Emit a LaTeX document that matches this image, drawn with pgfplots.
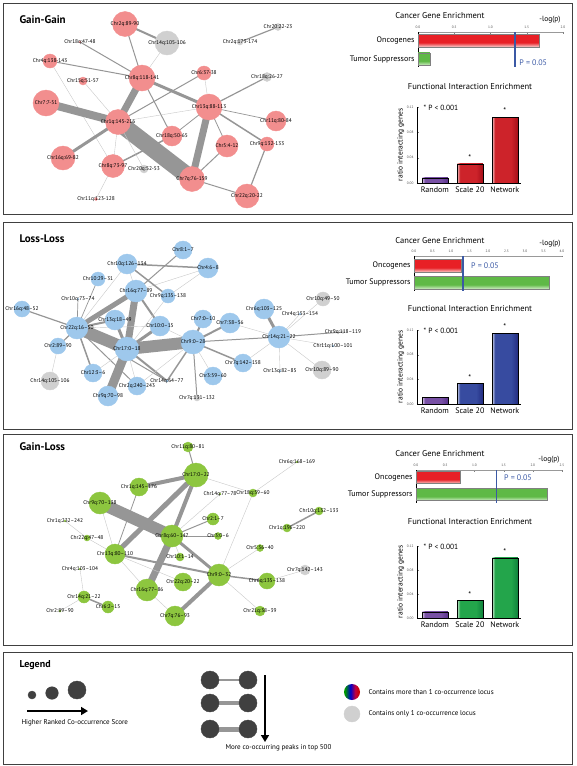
\documentclass[border=0pt]{standalone}
\usepackage{pgfplots}
\pgfplotsset{compat=1.18}
\usepackage{pgfplotstable}
\usepackage{fontspec}
\setmainfont{PT Sans}
\usetikzlibrary{arrows.meta}

\definecolor{ggpink}{RGB}{242,142,142}
\definecolor{llblue}{RGB}{158,200,236}
\definecolor{glgreen}{RGB}{141,198,63}
\definecolor{nodegrey}{RGB}{208,208,208}
\definecolor{edgegrey}{RGB}{150,150,150}
\definecolor{lightedge}{RGB}{200,200,200}
\definecolor{darkdot}{RGB}{64,64,64}
\definecolor{pblue}{RGB}{59,89,165}
\definecolor{redD}{RGB}{165,15,25}\definecolor{redM}{RGB}{205,35,42}\definecolor{redL}{RGB}{245,205,205}
\definecolor{purD}{RGB}{90,50,140}\definecolor{purM}{RGB}{120,80,165}\definecolor{purL}{RGB}{228,215,240}
\definecolor{bluD}{RGB}{35,45,130}\definecolor{bluM}{RGB}{55,75,160}\definecolor{bluL}{RGB}{215,220,240}
\definecolor{grnD}{RGB}{15,130,60}\definecolor{grnM}{RGB}{35,165,75}\definecolor{grnL}{RGB}{215,240,220}
\definecolor{oncR}{RGB}{232,32,38}\definecolor{oncL}{RGB}{248,200,200}
\definecolor{tsG}{RGB}{95,185,70}\definecolor{tsL}{RGB}{210,238,200}

\pgfdeclarehorizontalshading{rainbow}{100bp}{color(0bp)=(green!60!black); color(28bp)=(green!60!black); color(45bp)=(blue!80!black); color(60bp)=(purple); color(72bp)=(red!80!black); color(100bp)=(red!80!black)}
\pgfdeclareplotmark{rainbowball}{\pgfpathcircle{\pgfpointorigin}{\pgfplotmarksize}\pgfshadepath{rainbow}{0}\pgfusepath{discard}}
\pgfdeclarehorizontalshading{redbar}{100bp}{color(0bp)=(redL); color(25bp)=(redL); color(31bp)=(redM); color(62bp)=(redM); color(75bp)=(redD); color(100bp)=(redD)}
\pgfdeclarehorizontalshading{purbar}{100bp}{color(0bp)=(purL); color(25bp)=(purL); color(31bp)=(purM); color(62bp)=(purM); color(75bp)=(purD); color(100bp)=(purD)}
\pgfdeclarehorizontalshading{blubar}{100bp}{color(0bp)=(bluL); color(25bp)=(bluL); color(31bp)=(bluM); color(62bp)=(bluM); color(75bp)=(bluD); color(100bp)=(bluD)}
\pgfdeclarehorizontalshading{grnbar}{100bp}{color(0bp)=(grnL); color(25bp)=(grnL); color(31bp)=(grnM); color(62bp)=(grnM); color(75bp)=(grnD); color(100bp)=(grnD)}
\pgfdeclareverticalshading{oncbar}{100bp}{color(0bp)=(oncL); color(25bp)=(oncL); color(42bp)=(oncR); color(100bp)=(oncR)}
\pgfdeclareverticalshading{tsbar}{100bp}{color(0bp)=(tsL); color(25bp)=(tsL); color(42bp)=(tsG); color(100bp)=(tsG)}

\newcommand{\EE}[3]{\addplot[edgegrey, line width=#1pt, forget plot] coordinates {(#2) (#3)};}
\newcommand{\LE}[2]{\addplot[lightedge, line width=0.4pt, forget plot] coordinates {(#1) (#2)};}

\pgfplotsset{
  /pgf/number format/assume math mode=true,
  netnodes/.style={scatter, only marks, mark=*, point meta=\thisrow{r},
    scatter/use mapped color={draw=#1, fill=#1},
    visualization depends on={\thisrow{r}\as\rr},
    scatter/@pre marker code/.append style={/tikz/mark size=\rr pt}},
  netlabels/.style={draw=none, mark=none, point meta=explicit symbolic, nodes near coords,
    every node near coord/.append style={anchor=center, inner sep=0pt, font=\fontsize{5.4}{6}\selectfont, text=black}},
  cancer/.style={scale only axis, anchor=north west, y dir=reverse, clip=false,
    axis x line*=top, axis y line*=left, ytick={0,1}, yticklabels={Oncogenes,Tumor Suppressors},
    y tick label style={font=\fontsize{8}{9}\selectfont},
    x tick label style={font=\fontsize{3.5}{4}\selectfont, text=black!70, /pgf/number format/fixed, /pgf/number format/fixed zerofill, /pgf/number format/precision=1},
    major tick length=1.5pt, ytick style={draw=none}, xtick style={black!50},
    axis line style={line width=0.7pt}, x axis line style={black!40, line width=0.4pt}},
  func/.style={scale only axis, anchor=south west, width=104pt, clip=false,
    xmin=-0.51, xmax=2.46, ymin=0, ymax=0.12,
    axis x line*=bottom, axis y line*=left, axis line style={line width=0.7pt},
    xtick={0,1,2}, xticklabels={Random,Scale 20,Network}, xtick style={draw=none},
    x tick label style={font=\fontsize{8}{9}\selectfont},
    ytick={0,0.04,0.08,0.12}, major tick length=1.5pt,
    y tick label style={font=\fontsize{3.5}{4}\selectfont, text=black!70, /pgf/number format/fixed, /pgf/number format/fixed zerofill, /pgf/number format/precision=2},
    ylabel={ratio interacting genes}, ylabel style={font=\fontsize{7.5}{8}\selectfont, yshift=-4pt}},
  fbar/.style={ybar, bar width=26pt, bar shift=0pt, draw=black, line width=0.7pt, shade, shading=#1},
  cbar/.style 2 args={xbar, bar width=#1, bar shift=0pt, draw=black!50, shade, shading=#2},
}

% ---------------- Gain-Gain network ----------------
\pgfplotstableread{
x y r lab
125 24 12.5 Chr2q:89-90
50 61 7 Chr4q:138-143
83 81 4 Chr15q:51-57
142 78 13 Chr8q:118-141
204 73 7 Chr6:37-38
46 103 13 Chr7:7-51
209 107 13 Chr13q:88-113
118 122 12.5 Chr1q:145-216
276 121 10 Chr11q:80-84
172 136 10 Chr18q:50-65
227 146 11 Chr5:4-12
267 144 7 Chr9q:132-133
63 158 12 Chr16q:69-82
113 166 11.5 Chr8q:73-97
192 179 12.5 Chr7q:76-159
247 196 12 Chr22q:20-22
96 199 1.5 Chr11q:123-128
80 42 0.8 Chr18q:47-48
}\GGc
\pgfplotstableread{
x y r lab
167 43 12 Chr14q:105-106
278 27 3.5 Chr20:22-23
240 42 3 Chr2q:173-174
267 77 4.5 Chr18q:26-27
144 169 4 Chr20q:52-53
}\GGg

% ---------------- Loss-Loss network ----------------
\pgfplotstableread{
x y r lab
183 250 9 Chr8:1--7
127 264 10 Chr10q:126--134
208 268 10 Chr4:6--8
98 279 7 Chr10:29--31
136 291 11 Chr16q:77--89
168 296 7 Chr9q:135--138
78 299 0.8 Chr10q:73--74
22 309 8 Chr16q:48--52
264 309 10 Chr6q:103--125
300 314 0.8 Chr4q:153--154
115 320 10 Chr13q:18--49
203 319 9 Chr7:0--10
77 328 11 Chr22q:16--50
160 326 10 Chr10:0--15
230 323 10 Chr7:38--56
279 337 11 Chr14q:21--22
333 346 0.8 Chr11q:100--101
193 342 12 Chr9:0--28
58 346 8 Chr2:89--90
127 349 12 Chr17:0--18
243 363 9 Chr7q:142--158
280 371 0.8 Chr13q:82--85
93 373 9 Chr12:3--6
213 376 9 Chr3:59--60
167 381 1 Chr14q:64--77
137 386 9 Chr2q:240--243
108 396 10 Chr9q:70--98
}\LLc
\pgfplotstableread{
x y r lab
323 299 7 Chr10q:49--50
343 332 1.5 Chr9q:118--119
322 370 9 Chr10q:89--90
50 381 9 Chr14q:105--106
197 398 3 Chr7q:131--132
}\LLg

% ---------------- Gain-Loss network ----------------
\pgfplotstableread{
x y r lab
188 447 5 Chr11q:80--81
196 475 12 Chr17:0--22
297 462 0.8 Chr6q:168--169
139 487 9 Chr1q:145--176
220 494 0.8 Chr14q:77--78
253 493 4 Chr18q:59--60
100 503 11 Chr9q:70--138
213 519 6 Chr2:1--7
319 511 4 Chr10q:132--133
287 528 4 Chr1q:196--220
65 521 0.8 Chr1q:232--242
87 538 3 Chr22q:47--48
172 536 11 Chr8q:60--147
218 536 3.5 Chr3:0--6
260 548 3.5 Chr5:36--40
115 554 10 Chr13q:80--110
180 557 4 Chr10:1--14
80 569 0.8 Chr4q:103--104
219 575 11 Chr9:0--32
183 582 9 Chr22q:20--22
267 581 8 Chr6q:135--138
147 590 11 Chr16q:77--86
84 597 6 Chr14q:21--22
108 607 6 Chr6:2--15
60 611 1 Chr2:89--90
260 611 5 Chr21q:38--39
175 616 10 Chr7q:76--93
}\GLc
\pgfplotstableread{
x y r lab
305 570 5 Chr7q:142--143
}\GLg

\pgfplotstableread{
x y r
32 695 4
52 693 6.3
77 690 9
210 680 9
248 680 9
210 703 9
248 703 9
210 729 9
248 729 9
}\LEGd

\begin{document}
\begin{tikzpicture}
\useasboundingbox (0,0) rectangle (576pt,766pt);
\begin{axis}[at={(0,0)}, anchor=south west, scale only axis, width=576pt, height=766pt,
  xmin=0, xmax=576, ymin=0, ymax=766, y dir=reverse, hide axis, clip=false]
% panel frames
\draw[line width=1pt, black!75] (axis cs:3,3) rectangle (axis cs:572,214);
\draw[line width=1pt, black!75] (axis cs:3,222) rectangle (axis cs:572,429);
\draw[line width=1pt, black!75] (axis cs:3,434) rectangle (axis cs:572,645);
\draw[line width=1pt, black!75] (axis cs:3,652) rectangle (axis cs:572,764);
% titles
\node[anchor=west, font=\fontsize{11}{12}\selectfont\bfseries] at (axis cs:16,20) {Gain-Gain};
\node[anchor=west, font=\fontsize{11}{12}\selectfont\bfseries] at (axis cs:16,239) {Loss-Loss};
\node[anchor=west, font=\fontsize{11}{12}\selectfont\bfseries] at (axis cs:16,447) {Gain-Loss};
\node[anchor=west, font=\fontsize{10}{11}\selectfont\bfseries] at (axis cs:16,665) {Legend};
\node[font=\fontsize{8.5}{9}\selectfont] at (axis cs:440,16) {Cancer Gene Enrichment};
\node[font=\fontsize{7.5}{8}\selectfont] at (axis cs:550,20) {-log(p)};
\node[font=\fontsize{8.5}{9}\selectfont] at (axis cs:470,87) {Functional Interaction Enrichment};
\node[font=\fontsize{8.5}{9}\selectfont] at (axis cs:440,241) {Cancer Gene Enrichment};
\node[font=\fontsize{7.5}{8}\selectfont] at (axis cs:550,244) {-log(p)};
\node[font=\fontsize{8.5}{9}\selectfont] at (axis cs:470,309) {Functional Interaction Enrichment};
\node[font=\fontsize{8.5}{9}\selectfont] at (axis cs:440,454) {Cancer Gene Enrichment};
\node[font=\fontsize{7.5}{8}\selectfont] at (axis cs:549,460) {-log(p)};
\node[font=\fontsize{8.5}{9}\selectfont] at (axis cs:470,522) {Functional Interaction Enrichment};

% ===== Gain-Gain edges =====
\EE{2}{125,24}{167,43}
\EE{1}{125,24}{142,78}
\LE{167,43}{142,78}
\EE{1}{80,42}{142,78}
\EE{1}{50,61}{142,78}
\LE{50,61}{113,166}
\LE{83,81}{118,122}
\EE{7}{142,78}{118,122}
\EE{3}{142,78}{209,107}
\EE{1}{142,78}{172,136}
\EE{8}{46,103}{118,122}
\EE{17}{118,122}{192,179}
\EE{3}{118,122}{63,158}
\EE{1}{118,122}{204,73}
\LE{118,122}{209,107}
\LE{118,122}{113,166}
\EE{7}{209,107}{192,179}
\EE{1.2}{209,107}{267,77}
\LE{209,107}{204,73}
\EE{0.7}{209,107}{276,121}
\EE{1.5}{209,107}{267,144}
\EE{0.8}{209,107}{227,146}
\EE{0.8}{209,107}{172,136}
\EE{1.5}{113,166}{172,136}
\LE{113,166}{96,199}
\LE{144,169}{118,122}
\EE{1}{227,146}{192,179}
\EE{1}{192,179}{247,196}
\EE{1.2}{267,144}{247,196}
\EE{1.2}{278,27}{240,42}
\addplot[netnodes=nodegrey] table[x=x,y=y] {\GGg};
\addplot[netnodes=ggpink] table[x=x,y=y] {\GGc};
\addplot[netlabels] table[x=x,y=y,meta=lab] {\GGg};
\addplot[netlabels] table[x=x,y=y,meta=lab] {\GGc};

% ===== Loss-Loss edges =====
\EE{12}{77,328}{127,349}
\EE{12}{127,349}{193,342}
\EE{7}{127,349}{136,291}
\EE{9}{127,349}{108,396}
\EE{5}{77,328}{136,291}
\EE{3}{127,349}{115,320}
\EE{3}{127,349}{160,326}
\EE{2}{136,291}{160,326}
\EE{2}{77,328}{115,320}
\EE{1.2}{77,328}{22,309}
\EE{0.7}{77,328}{98,279}
\EE{0.7}{77,328}{78,299}
\EE{1.2}{77,328}{58,346}
\EE{1.5}{77,328}{93,373}
\EE{1}{77,328}{137,386}
\EE{1}{77,328}{167,381}
\LE{77,328}{160,326}
\LE{77,328}{127,264}
\EE{1}{136,291}{183,250}
\LE{136,291}{208,268}
\LE{136,291}{127,264}
\EE{1.5}{127,264}{208,268}
\EE{1.5}{127,264}{168,296}
\LE{168,296}{208,268}
\LE{168,296}{127,349}
\LE{58,346}{50,381}
\LE{127,349}{93,373}
\EE{2}{127,349}{167,381}
\LE{127,349}{137,386}
\EE{1.5}{193,342}{167,381}
\LE{193,342}{137,386}
\EE{2}{193,342}{203,319}
\EE{2}{193,342}{230,323}
\EE{1}{193,342}{279,337}
\EE{1.5}{193,342}{243,363}
\LE{193,342}{213,376}
\EE{1}{193,342}{197,398}
\LE{193,342}{160,326}
\LE{230,323}{279,337}
\EE{3}{279,337}{264,309}
\LE{279,337}{300,314}
\LE{279,337}{323,299}
\EE{1}{279,337}{343,332}
\LE{279,337}{333,346}
\LE{279,337}{280,371}
\LE{279,337}{322,370}
\LE{279,337}{243,363}
\addplot[netnodes=nodegrey] table[x=x,y=y] {\LLg};
\addplot[netnodes=llblue] table[x=x,y=y] {\LLc};
\addplot[netlabels] table[x=x,y=y,meta=lab] {\LLg};
\addplot[netlabels] table[x=x,y=y,meta=lab] {\LLc};

% ===== Gain-Loss edges =====
\EE{12}{100,503}{172,536}
\EE{5}{115,554}{196,475}
\EE{7}{172,536}{147,590}
\EE{4}{139,487}{196,475}
\EE{4}{172,536}{196,475}
\EE{3}{172,536}{219,575}
\EE{2}{115,554}{219,575}
\EE{4}{219,575}{175,616}
\LE{219,575}{253,493}
\LE{219,575}{260,548}
\EE{1.5}{219,575}{267,581}
\LE{219,575}{260,611}
\EE{1}{196,475}{188,447}
\LE{196,475}{253,493}
\LE{253,493}{297,462}
\LE{172,536}{220,494}
\EE{1}{172,536}{213,519}
\EE{1}{172,536}{218,536}
\LE{172,536}{180,557}
\EE{0.8}{115,554}{139,487}
\LE{115,554}{100,503}
\LE{115,554}{87,538}
\LE{87,538}{65,521}
\LE{115,554}{147,590}
\LE{115,554}{183,582}
\LE{147,590}{175,616}
\EE{1.5}{84,597}{108,607}
\LE{84,597}{80,569}
\LE{84,597}{60,611}
\EE{1.5}{319,511}{287,528}
\LE{267,581}{305,570}
\addplot[netnodes=nodegrey] table[x=x,y=y] {\GLg};
\addplot[netnodes=glgreen] table[x=x,y=y] {\GLc};
\addplot[netlabels] table[x=x,y=y,meta=lab] {\GLg};
\addplot[netlabels] table[x=x,y=y,meta=lab] {\GLc};

% ===== Legend panel =====
\EE{2}{210,680}{248,680}
\EE{3.5}{210,703}{248,703}
\EE{5}{210,729}{248,729}
\addplot[netnodes=darkdot] table[x=x,y=y] {\LEGd};
\addplot[black, line width=1.6pt, -{Triangle[length=7pt,width=8pt]}] coordinates {(27,711) (88,711)};
\addplot[black, line width=1.6pt, -{Triangle[length=7pt,width=8pt]}] coordinates {(265,675) (265,742)};
\addplot[only marks, mark=rainbowball, mark size=8pt] coordinates {(352,692)};
\addplot[only marks, mark=*, mark size=8pt, mark options={draw=nodegrey, fill=nodegrey}] coordinates {(352,714)};
\node[anchor=west, font=\fontsize{7}{8}\selectfont] at (axis cs:18,723) {Higher Ranked Co-occurrence Score};
\node[anchor=west, font=\fontsize{7}{8}\selectfont] at (axis cs:222,748) {More co-occurring peaks in top 500};
\node[anchor=west, font=\fontsize{7}{8}\selectfont] at (axis cs:365,692) {Contains more than 1 co-occurrence locus};
\node[anchor=west, font=\fontsize{7}{8}\selectfont] at (axis cs:365,714) {Contains only 1 co-occurrence locus};
\end{axis}

% ===== Gain-Gain cancer enrichment =====
\begin{axis}[cancer, at={(418pt,733.5pt)}, width=145pt, height=34.5pt,
  xmin=0, xmax=2, ymin=-0.43, ymax=1.43, xtick={0,0.5,1,1.5,2}]
\addplot[cbar={12.5pt}{oncbar}] coordinates {(1.67,0)};
\addplot[cbar={12.5pt}{tsbar}] coordinates {(0.165,1)};
\addplot[pblue, line width=1.8pt] coordinates {(1.34,-0.43) (1.34,1.43)};
\node[anchor=west, text=pblue, font=\fontsize{8}{9}\selectfont] at (axis cs:1.35,1.2) {P = 0.05};
\end{axis}
% ===== Loss-Loss cancer enrichment =====
\begin{axis}[cancer, at={(414pt,510pt)}, width=148pt, height=35pt,
  xmin=0, xmax=4, ymin=-0.56, ymax=1.5, xtick={0,0.5,1,1.5,2,2.5,3,3.5,4}]
\addplot[cbar={13pt}{oncbar}] coordinates {(1.28,0)};
\addplot[cbar={13pt}{tsbar}] coordinates {(3.65,1)};
\addplot[pblue, line width=1.8pt] coordinates {(1.33,-0.56) (1.33,1.5)};
\node[anchor=west, text=pblue, font=\fontsize{8}{9}\selectfont] at (axis cs:1.45,0) {P = 0.05};
\end{axis}
% ===== Gain-Loss cancer enrichment =====
\begin{axis}[cancer, at={(416pt,295.5pt)}, width=146pt, height=32.5pt,
  xmin=0, xmax=2.5, ymin=-0.41, ymax=1.5, xtick={0,0.5,1,1.5,2,2.5}]
\addplot[cbar={12pt}{oncbar}] coordinates {(0.75,0)};
\addplot[cbar={12pt}{tsbar}] coordinates {(2.24,1)};
\addplot[pblue, line width=1.8pt] coordinates {(1.38,-0.41) (1.38,1.5)};
\node[anchor=west, text=pblue, font=\fontsize{8}{9}\selectfont] at (axis cs:1.45,0) {P = 0.05};
\end{axis}

% ===== Functional interaction: Gain-Gain =====
\begin{axis}[func, at={(417pt,583pt)}, height=76pt]
\addplot[fbar=purbar] coordinates {(0,0.008)};
\addplot[fbar=redbar] coordinates {(1,0.03)};
\addplot[fbar=redbar] coordinates {(2,0.104)};
\node[above, font=\fontsize{8}{9}\selectfont] at (axis cs:1,0.03) {*};
\node[above, font=\fontsize{8}{9}\selectfont] at (axis cs:2,0.104) {*};
\node[anchor=west, font=\fontsize{7.5}{8}\selectfont] at (axis cs:-0.42,0.118) {* P < 0.001};
\end{axis}
% ===== Functional interaction: Loss-Loss =====
\begin{axis}[func, at={(417pt,362pt)}, height=74pt]
\addplot[fbar=purbar] coordinates {(0,0.011)};
\addplot[fbar=blubar] coordinates {(1,0.033)};
\addplot[fbar=blubar] coordinates {(2,0.115)};
\node[above, font=\fontsize{8}{9}\selectfont] at (axis cs:1,0.033) {*};
\node[above, font=\fontsize{8}{9}\selectfont] at (axis cs:2,0.115) {*};
\node[anchor=west, font=\fontsize{7.5}{8}\selectfont] at (axis cs:-0.42,0.118) {* P < 0.001};
\end{axis}
% ===== Functional interaction: Gain-Loss =====
\begin{axis}[func, at={(417pt,148pt)}, height=72pt]
\addplot[fbar=purbar] coordinates {(0,0.01)};
\addplot[fbar=grnbar] coordinates {(1,0.029)};
\addplot[fbar=grnbar] coordinates {(2,0.1)};
\node[above, font=\fontsize{8}{9}\selectfont] at (axis cs:1,0.029) {*};
\node[above, font=\fontsize{8}{9}\selectfont] at (axis cs:2,0.1) {*};
\node[anchor=west, font=\fontsize{7.5}{8}\selectfont] at (axis cs:-0.42,0.118) {* P < 0.001};
\end{axis}
\end{tikzpicture}
\end{document}
